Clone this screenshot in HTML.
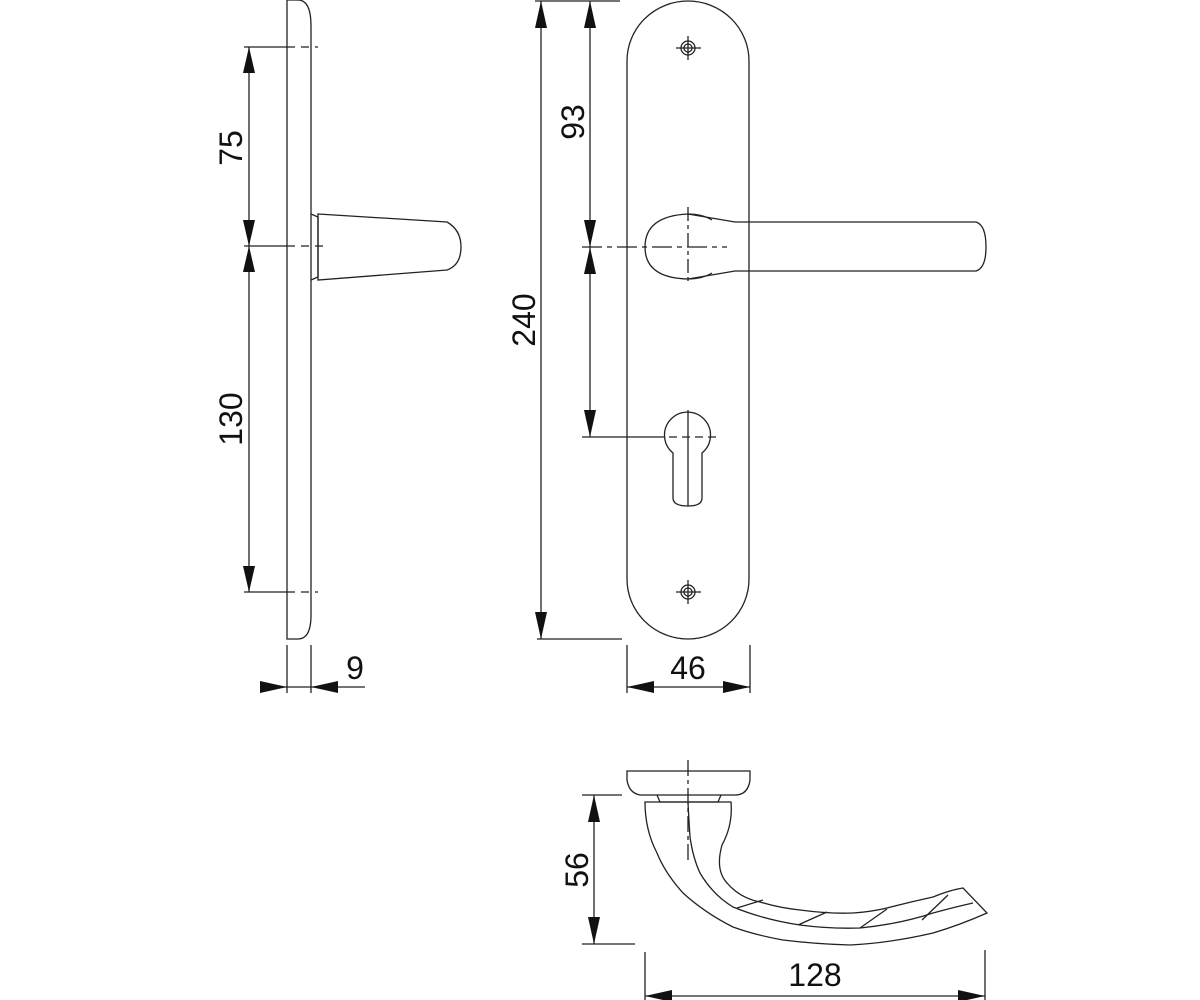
<!DOCTYPE html>
<html><head><meta charset="utf-8"><style>html,body{margin:0;padding:0;background:#fff}svg{display:block}</style></head>
<body>
<svg width="1200" height="1000" viewBox="0 0 1200 1000" xmlns="http://www.w3.org/2000/svg">
<g fill="none" stroke="#222" stroke-width="1.3">
<!-- side view plate -->
<path d="M287,0 L298,0 Q311,0 311,26 L311,615 Q311,639 298,639 L287,639 Z"/>
<!-- side handle -->
<path d="M311,214 L318,217 L318,277 L311,280"/>
<path d="M318,214 L447,222 Q461,230 461,247 Q461,265 447,270 L318,280 Z"/>
<!-- extension lines side -->
<line x1="244" y1="47" x2="287" y2="47"/><line x1="287" y1="47" x2="318" y2="47" stroke-dasharray="8,6"/>
<line x1="244" y1="246" x2="287" y2="246"/><line x1="287" y1="246" x2="323" y2="246" stroke-dasharray="8,6"/>
<line x1="244" y1="592" x2="287" y2="592"/><line x1="287" y1="592" x2="318" y2="592" stroke-dasharray="8,6"/>
<line x1="249" y1="47" x2="249" y2="246"/>
<line x1="249" y1="246" x2="249" y2="592"/>
<!-- 9 -->
<line x1="287" y1="645" x2="287" y2="693"/><line x1="311" y1="645" x2="311" y2="693"/>
<line x1="260" y1="687" x2="365" y2="687"/>
<!-- front plate -->
<path d="M627,61 A61,60 0 0 1 749,61 L749,579 A61,60 0 0 1 627,579 Z"/>
<circle cx="688" cy="48" r="7"/><circle cx="688" cy="48" r="4"/>
<line x1="676" y1="48" x2="701" y2="48"/><line x1="688" y1="36" x2="688" y2="60"/>
<circle cx="688" cy="592" r="7"/><circle cx="688" cy="592" r="4"/>
<line x1="676" y1="592" x2="701" y2="592"/><line x1="688" y1="580" x2="688" y2="604"/>
<!-- handle front -->
<path d="M688,214 Q645,216 645,247 Q645,278 688,279 Q705,276 735,271 L976,271 Q986,268 986,247 Q986,225 976,222 L735,222 Q705,217 688,214 Z"/>
<path d="M688,214 Q702,214 712,220" /><path d="M688,279 Q702,279 712,273"/>
<line x1="688" y1="207" x2="688" y2="285" stroke-dasharray="14,4,4,4"/>
<line x1="582" y1="247" x2="727" y2="247" stroke-dasharray="20,5,5,5"/>
<!-- keyhole -->
<path d="M673,453 A23,23 0 1 1 702,453 L702,498 Q702,506 688,506 Q673,506 673,498 Z"/>
<line x1="688" y1="410" x2="688" y2="506"/>
<line x1="582" y1="437" x2="656" y2="437"/><line x1="656" y1="437" x2="717" y2="437" stroke-dasharray="8,5"/>
<!-- 240 / 93 -->
<line x1="535" y1="1" x2="620" y2="1"/>
<line x1="537" y1="639" x2="622" y2="639"/>
<line x1="541" y1="1" x2="541" y2="639"/>
<line x1="590" y1="1" x2="590" y2="247"/>
<line x1="590" y1="247" x2="590" y2="437"/>
<!-- 46 -->
<line x1="627" y1="645" x2="627" y2="693"/><line x1="750" y1="645" x2="750" y2="693"/>
<line x1="627" y1="687" x2="750" y2="687"/>
<!-- bottom view rose -->
<path d="M627,771 L750,771 L750,780 Q748,795 735,795 L640,795 Q629,793 627,780 Z"/>
<path d="M657,795 L660,802 L718,802 L721,795"/>
<!-- lever -->
<path d="M645,802 L731,802 Q733,825 722,845 Q715,870 727,883 Q740,898 760,902 Q780,908 800,910 Q830,914 853,913 Q870,912 887,908 Q910,902 933,897 Q950,890 963,888 L987,913 Q960,925 933,933 Q890,943 850,945 Q815,944 783,940 Q755,935 733,927 Q705,913 683,893 Q665,873 657,853 Q645,830 645,802 Z"/>
<path d="M688,803 Q689,822 690,837 Q693,858 700,873 Q713,895 733,907 Q765,920 800,925 Q830,929 860,928 Q900,924 933,913 Q955,907 973,903"/>
<path d="M737,908 L763,900"/><path d="M798,925 L827,912"/><path d="M860,928 L887,909"/><path d="M922,920 L948,895"/>
<line x1="688" y1="760" x2="688" y2="860" stroke-dasharray="16,4,4,4"/>
<!-- 56 -->
<line x1="582" y1="795" x2="622" y2="795"/>
<line x1="582" y1="944" x2="635" y2="944"/>
<line x1="594" y1="795" x2="594" y2="944"/>
<!-- 128 -->
<line x1="645" y1="952" x2="645" y2="1000"/><line x1="985" y1="950" x2="985" y2="1000"/>
<line x1="645" y1="996" x2="985" y2="996"/>
</g>
<g fill="#111">
<path d="M249,47 L243,73 L255,73 Z"/><path d="M249,246 L243,220 L255,220 Z"/>
<path d="M249,246 L243,272 L255,272 Z"/><path d="M249,592 L243,566 L255,566 Z"/>
<path d="M287,687 L260,681 L260,693 Z"/><path d="M311,687 L338,681 L338,693 Z"/>
<path d="M541,1 L535,28 L547,28 Z"/><path d="M541,639 L535,612 L547,612 Z"/>
<path d="M590,1 L584,28 L596,28 Z"/><path d="M590,247 L584,220 L596,220 Z"/>
<path d="M590,247 L584,274 L596,274 Z"/><path d="M590,437 L584,410 L596,410 Z"/>
<path d="M627,687 L654,681 L654,693 Z"/><path d="M750,687 L723,681 L723,693 Z"/>
<path d="M594,795 L588,822 L600,822 Z"/><path d="M594,944 L588,917 L600,917 Z"/>
<path d="M645,996 L672,990 L672,1002 Z"/><path d="M985,996 L958,990 L958,1002 Z"/>
</g>
<g font-family="Liberation Sans, sans-serif" font-size="32" fill="#111" text-anchor="middle">
<text transform="translate(242,148) rotate(-90)">75</text>
<text transform="translate(242,419) rotate(-90)">130</text>
<text x="355" y="679">9</text>
<text transform="translate(535,320) rotate(-90)">240</text>
<text transform="translate(584,122) rotate(-90)">93</text>
<text x="688" y="679">46</text>
<text transform="translate(588,870) rotate(-90)">56</text>
<text x="815" y="986">128</text>
</g>
</svg>
</body></html>
